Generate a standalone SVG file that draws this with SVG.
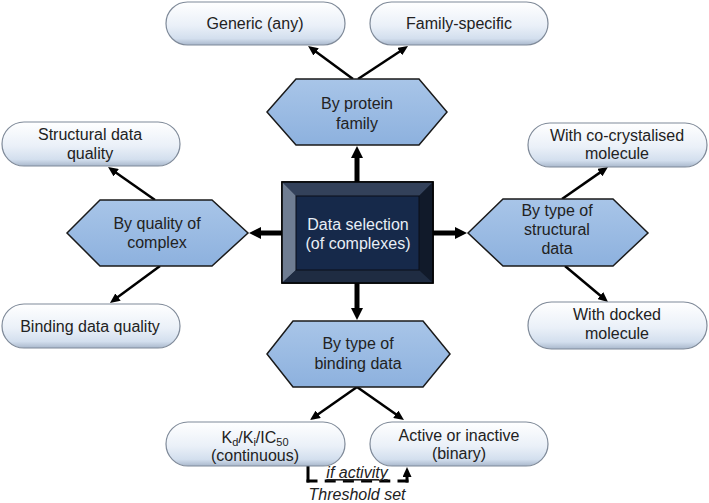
<svg xmlns="http://www.w3.org/2000/svg" width="709" height="503" viewBox="0 0 709 503">
<defs>
<linearGradient id="pillGrad" x1="0" y1="0" x2="0" y2="1">
<stop offset="0" stop-color="#ffffff"/>
<stop offset="0.55" stop-color="#eaf0f8"/>
<stop offset="0.85" stop-color="#d3dfee"/>
<stop offset="1" stop-color="#a9b8cc"/>
</linearGradient>
<linearGradient id="hexGrad" x1="0" y1="0" x2="0" y2="1">
<stop offset="0" stop-color="#a8c5e8"/>
<stop offset="1" stop-color="#8db1de"/>
</linearGradient>
<marker id="thin" markerUnits="userSpaceOnUse" markerWidth="10" markerHeight="9" refX="1" refY="4.5" orient="auto">
<path d="M0,0 L10,4.5 L0,9 z" fill="#000"/>
</marker>
<marker id="thick" markerUnits="userSpaceOnUse" markerWidth="12" markerHeight="12" refX="1" refY="6" orient="auto">
<path d="M0,0 L12,6 L0,12 z" fill="#000"/>
</marker>
</defs>
<style>
.pill{fill:url(#pillGrad);stroke:#7f8a99;stroke-width:1.2}
.hex{fill:url(#hexGrad);stroke:#1a1a1a;stroke-width:1.5}
.t{font-family:"Liberation Sans",Arial,sans-serif;font-size:16px;fill:#222;text-anchor:middle}
.w{font-family:"Liberation Sans",Arial,sans-serif;font-size:16px;fill:#e8eef6;text-anchor:middle}
.it{font-family:"Liberation Sans",Arial,sans-serif;font-size:16px;font-style:italic;fill:#222;text-anchor:middle}
.thin{stroke:#000;stroke-width:2.5;fill:none;marker-end:url(#thin)}
.thick{stroke:#000;stroke-width:5;fill:none;marker-end:url(#thick)}
.solid3{stroke:#000;stroke-width:3;fill:none}
.dash{stroke:#000;stroke-width:3;fill:none;stroke-dasharray:9 9}
</style>
<rect width="709" height="503" fill="#ffffff"/>

<g id="connectors">
<line class="thick" x1="357" y1="182" x2="357" y2="157"/>
<line class="thick" x1="282" y1="233" x2="260" y2="233"/>
<line class="thick" x1="433" y1="233" x2="456" y2="233"/>
<line class="thick" x1="357" y1="283" x2="357" y2="309"/>
<line class="thin" x1="353" y1="79" x2="315.3" y2="51.3"/>
<line class="thin" x1="358" y1="79" x2="400.5" y2="51"/>
<line class="thin" x1="155" y1="200" x2="115.4" y2="172.2"/>
<line class="thin" x1="160" y1="266" x2="117.2" y2="297.6"/>
<line class="thin" x1="562" y1="199" x2="600.6" y2="172.1"/>
<line class="thin" x1="565" y1="266" x2="601.1" y2="296.2"/>
<line class="thin" x1="357" y1="387" x2="317.4" y2="414.8"/>
<line class="thin" x1="357" y1="387" x2="396.6" y2="414.8"/>
<path class="solid3" d="M308,466 V482.5"/>
<line class="dash" x1="306.5" y1="481" x2="408.5" y2="481" style="stroke-dasharray:11 7.2"/>
<path class="solid3" d="M407,482.5 V476" style="marker-end:url(#thin)"/>
</g>

<g id="center">
<rect x="282" y="182" width="151" height="101" fill="#1b2638" stroke="#000" stroke-width="1.5"/>
<polygon points="282,182 433,182 419,196 296,196" fill="#33415a"/>
<polygon points="282,182 296,196 296,270 282,283" fill="#6f7d92"/>
<polygon points="282,283 296,270 419,270 433,283" fill="#1f2c42"/>
<polygon points="433,182 419,196 419,270 433,283" fill="#111a2a"/>
<rect x="296" y="196" width="123" height="74" fill="#16294a" stroke="#0a0f18" stroke-width="1"/>
<rect x="282" y="182" width="151" height="101" fill="none" stroke="#000" stroke-width="1.5"/>
<text class="w" x="358" y="230">Data selection</text>
<text class="w" x="358" y="249">(of complexes)</text>
</g>

<g id="hex-protein">
<polygon class="hex" points="267,112 296,79 419,79 447,112 419,145 296,145"/>
<text class="t" x="357" y="109">By protein</text>
<text class="t" x="357" y="129">family</text>
</g>

<g id="hex-quality">
<polygon class="hex" points="67,233 100,200 212,200 248,233 212,266 100,266"/>
<text class="t" x="157" y="229">By quality of</text>
<text class="t" x="157" y="248">complex</text>
</g>

<g id="hex-structural">
<polygon class="hex" points="468,233 503,199 613,199 648,233 613,266 503,266"/>
<text class="t" x="557" y="216">By type of</text>
<text class="t" x="557" y="235">structural</text>
<text class="t" x="557" y="254">data</text>
</g>

<g id="hex-binding">
<polygon class="hex" points="267,354 293,321 423,321 450,354 423,387 293,387"/>
<text class="t" x="358" y="349">By type of</text>
<text class="t" x="358" y="369">binding data</text>
</g>

<g id="pill-generic">
<rect class="pill" x="166" y="2" width="179" height="43" rx="21.5"/>
<text class="t" x="255" y="29">Generic (any)</text>
</g>

<g id="pill-family">
<rect class="pill" x="370" y="2" width="178" height="43" rx="21.5"/>
<text class="t" x="459" y="29">Family-specific</text>
</g>

<g id="pill-structural-quality">
<rect class="pill" x="2" y="122" width="178" height="44" rx="22"/>
<text class="t" x="90" y="140">Structural data</text>
<text class="t" x="90" y="159">quality</text>
</g>

<g id="pill-binding-quality">
<rect class="pill" x="2" y="304" width="178" height="44" rx="22"/>
<text class="t" x="90" y="332">Binding data quality</text>
</g>

<g id="pill-cocrystal">
<rect class="pill" x="528" y="123" width="179" height="44" rx="22"/>
<text class="t" x="617" y="141">With co-crystalised</text>
<text class="t" x="617" y="159">molecule</text>
</g>

<g id="pill-docked">
<rect class="pill" x="528" y="302" width="179" height="47" rx="23.5"/>
<text class="t" x="617" y="320">With docked</text>
<text class="t" x="617" y="339">molecule</text>
</g>

<g id="pill-kd">
<rect class="pill" x="166" y="422" width="179" height="44" rx="22"/>
<text class="t" x="255" y="443">K<tspan font-size="11" dy="3">d</tspan><tspan dy="-3">/K</tspan><tspan font-size="11" dy="3">i</tspan><tspan dy="-3">/IC</tspan><tspan font-size="11" dy="3">50</tspan></text>
<text class="t" x="255" y="461">(continuous)</text>
</g>

<g id="pill-active">
<rect class="pill" x="370" y="422" width="178" height="44" rx="22"/>
<text class="t" x="459" y="441">Active or inactive</text>
<text class="t" x="459" y="459">(binary)</text>
</g>

<g id="threshold-label">
<text class="it" x="357" y="478" text-decoration="underline">if activity</text>
<text class="it" x="357" y="500">Threshold set</text>
</g>
</svg>
